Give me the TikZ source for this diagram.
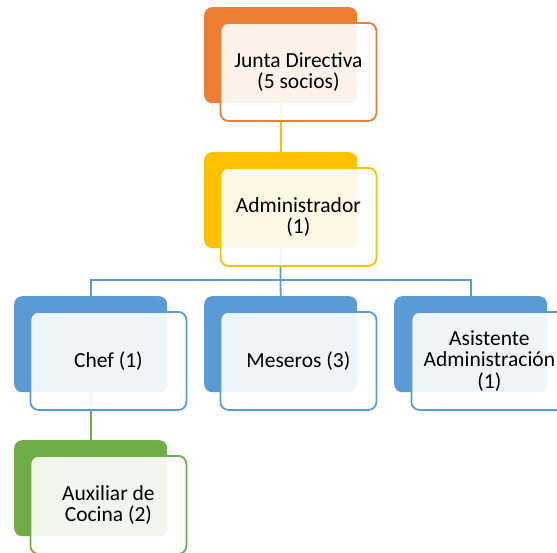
\documentclass[tikz,border=0pt]{standalone}
\usepackage{fontspec}
\setmainfont{Carlito}
\usetikzlibrary{backgrounds}
\definecolor{corange}{HTML}{ED7D31}
\definecolor{cgold}{HTML}{FFC000}
\definecolor{cblue}{HTML}{5B9BD5}
\definecolor{cgreen}{HTML}{70AD47}
\begin{document}
\begin{tikzpicture}[x=1pt,y=-1pt,
  backbox/.style={rounded corners=8pt, minimum width=153pt, minimum height=96pt, inner sep=0pt, anchor=north west},
  frontbox/.style={rounded corners=8pt, minimum width=156pt, minimum height=98pt, inner sep=0pt, anchor=north west,
    line width=1.8pt, fill=white, fill opacity=0.9, text opacity=1, align=center,
    font=\fontsize{21.5}{21.5}\selectfont},
  conn/.style={line width=1.8pt}]
\useasboundingbox (0,0) rectangle (557,552);
\clip (0,0) rectangle (557,552);
% Junta Directiva
\node[backbox, fill=corange] (jb) at (204,7) {};
\node[frontbox, draw=corange] (jf) at (219.5,22) {Junta Directiva\\(5 socios)};
% Administrador
\node[backbox, fill=cgold] (ab) at (204,152) {};
\node[frontbox, draw=cgold] (af) at (219.5,167) {Administrador\\(1)};
% Chef
\node[backbox, fill=cblue] (cb) at (14,296) {};
\node[frontbox, draw=cblue] (cf) at (29.5,311) {Chef (1)};
% Meseros
\node[backbox, fill=cblue] (mb) at (204,296) {};
\node[frontbox, draw=cblue] (mf) at (219.5,311) {Meseros (3)};
% Asistente
\node[backbox, fill=cblue] (sb) at (394,296) {};
\node[frontbox, draw=cblue] (sf) at (410.5,311) {Asistente\\Administración\\(1)};
% Auxiliar
\node[backbox, fill=cgreen] (xb) at (14,440) {};
\node[frontbox, draw=cgreen] (xf) at (29.5,455) {Auxiliar de\\Cocina (2)};
\coordinate (bus) at (280.5,280);
\begin{scope}[on background layer]
\draw[conn, cgold] (jb.south) -- (ab.north);
\draw[conn, cblue] (ab.south) -- (bus);
\draw[conn, cblue] (bus) -| (cb.north);
\draw[conn, cblue] (bus) -- (mb.north);
\draw[conn, cblue] (bus) -| (sb.north);
\draw[conn, cgreen] (cb.south) -- (xb.north);
\end{scope}
\end{tikzpicture}
\end{document}
